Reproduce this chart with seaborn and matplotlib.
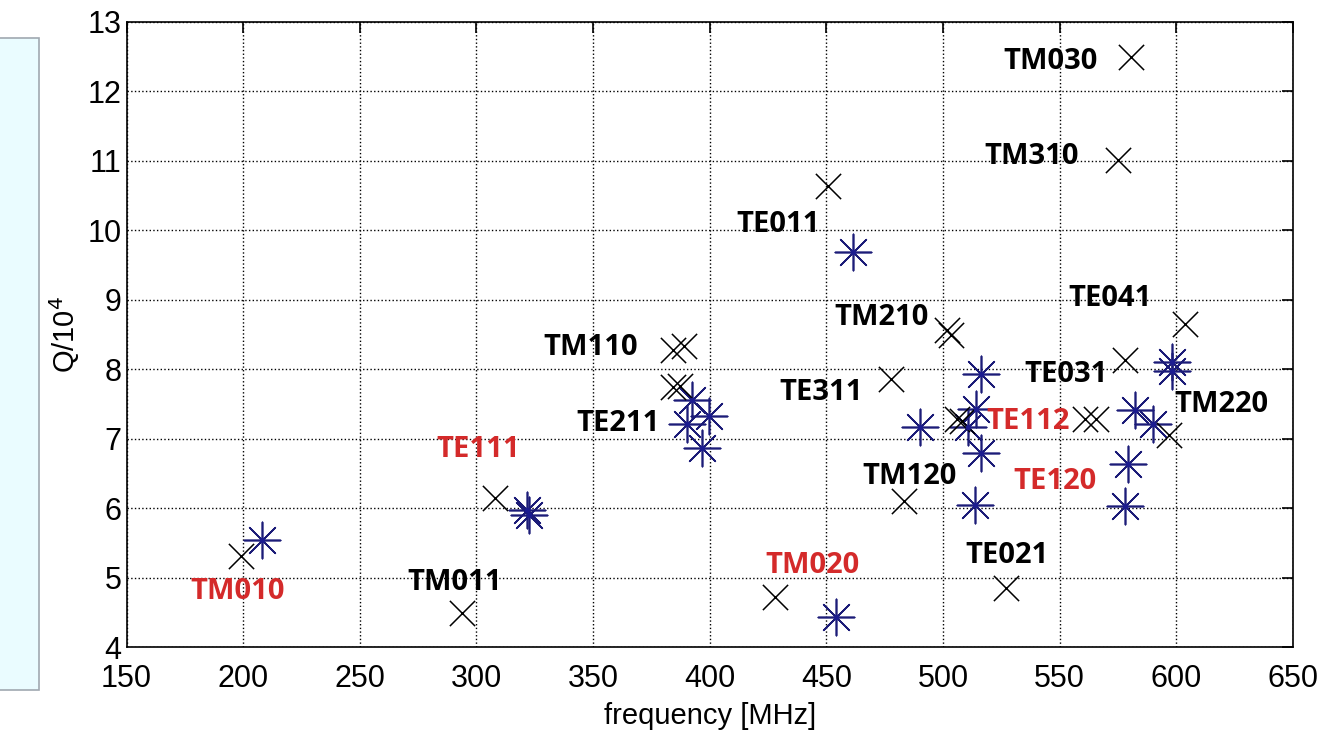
import pandas as pd
import numpy as np
import matplotlib.pyplot as plt
import seaborn as sns
from matplotlib.patches import Rectangle

# black 'x' points: frequency [MHz], Q/1e4
tm_freq = [199, 293.6, 308.0, 384.3, 389.0, 384.3, 387.2, 450.6, 501.5, 503.5,
           477.5, 483.3, 526.9, 427.9, 580.7, 575.0, 603.6, 578.0, 505.8,
           508.0, 560.7, 565.7, 597.0]
tm_q = [5.31, 4.49, 6.15, 8.28, 8.33, 7.74, 7.76, 10.64, 8.57, 8.50,
        7.86, 6.11, 4.85, 4.73, 12.50, 11.01, 8.65, 8.13, 7.28,
        7.25, 7.29, 7.29, 7.05]

# blue '*' points
te_freq = [207.9, 321.8, 322.5, 392.4, 399.6, 390.3, 396.7, 461.4, 516.4,
           490.0, 514.0, 510.7, 516.1, 513.6, 582.5, 590.2, 579.3, 577.9,
           598.2, 598.2, 454.0]
te_q = [5.55, 5.97, 5.90, 7.56, 7.33, 7.21, 6.87, 9.69, 7.93,
        7.17, 7.43, 7.17, 6.79, 6.05, 7.42, 7.21, 6.64, 6.03,
        8.11, 7.97, 4.44]

# mode labels
label_text = ['TM010', 'TM011', 'TE111', 'TM110', 'TE211', 'TE011', 'TM210',
              'TE311', 'TM120', 'TM020', 'TE021', 'TE112', 'TE120', 'TE031',
              'TM220', 'TE041', 'TM310', 'TM030']
label_f = [197.8, 290.8, 300.6, 349.1, 360.6, 429.2, 473.8,
           447.9, 485.5, 443.9, 527.3, 536.3, 547.8, 552.6,
           619.4, 571.4, 538.0, 546.2]
label_q = [4.80, 4.93, 6.85, 8.32, 7.22, 10.08, 8.75,
           7.66, 6.46, 5.17, 5.32, 7.25, 6.39, 7.92,
           7.50, 9.02, 11.06, 12.43]
label_red = ['TM010', 'TE111', 'TM020', 'TE112', 'TE120']

sns.set_style('white')
plt.rcParams['font.family'] = ['Liberation Sans', 'DejaVu Sans']

fig = plt.figure(figsize=(13.28, 7.43), dpi=100)
# light blue panel at the left edge
fig.patches.append(Rectangle((-0.01, 0.071), 0.039, 0.878, transform=fig.transFigure,
                             facecolor='#eafcff', edgecolor='#a0a8b0', linewidth=1.2))
ax = fig.add_axes([0.0953, 0.1288, 0.8783, 0.8419])

sns.scatterplot(x=te_freq, y=te_q, marker=(8, 2, 0), s=680, color='#1c1c78',
                linewidth=1.2, ax=ax, zorder=3)
sns.scatterplot(x=te_freq, y=te_q, marker='o', s=16, color='#1c1c90',
                linewidth=0, ax=ax, zorder=4)
sns.scatterplot(x=tm_freq, y=tm_q, marker='x', s=330, color='black',
                linewidth=1.1, ax=ax, zorder=3)

for t, f, q in zip(label_text, label_f, label_q):
    ax.text(f, q, t, ha='center', va='center', fontsize=21, fontweight='bold',
            family=['Open Sans', 'DejaVu Sans'],
            color='#d42a2a' if t in label_red else 'black', zorder=5)

ax.set_xlim(150, 650)
ax.set_ylim(4, 13)
ax.set_xticks(range(150, 651, 50))
ax.set_yticks(range(4, 14))
ax.grid(True, linestyle=':', color='black', linewidth=1.0)
ax.tick_params(direction='in', length=8, labelsize=22, top=True, right=True,
               width=1.2, colors='black')
ax.tick_params(axis='x', pad=12)
for s in ax.spines.values():
    s.set_color('black')
    s.set_linewidth(1.2)
ax.set_xlabel('frequency [MHz]', fontsize=21, labelpad=6, color='black')
ax.set_ylabel('Q/10$^4$', fontsize=21, color='black')

plt.savefig('out.png', dpi=100)
